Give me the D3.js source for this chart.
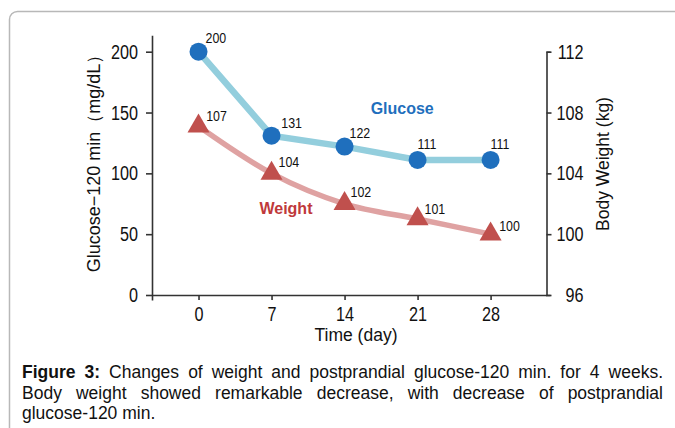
<!DOCTYPE html>
<html>
<head>
<meta charset="utf-8">
<script src="https://cdn.jsdelivr.net/npm/d3@7"></script>
<style>
  html, body { margin: 0; padding: 0; background: #fff; }
  svg { display: block; }
</style>
</head>
<body>
<svg id="chart" width="675" height="428"></svg>
<script>
// ---------- data ----------
const days = [0, 7, 14, 21, 28];
const glucose = [200, 131, 122, 111, 111];
const weight = [107.1, 104.0, 102.0, 101.0, 100.0];
const glucoseLabels = ["200", "131", "122", "111", "111"];
const weightLabels = ["107", "104", "102", "101", "100"];
const xTicks = [0, 7, 14, 21, 28];
const leftTicks = [0, 50, 100, 150, 200];
const rightTicks = [96, 100, 104, 108, 112];
const captionLines = [
  [{t: "Figure 3:", b: true}, {t: "Changes of weight and postprandial glucose-120 min. for 4 weeks.", b: false}],
  [{t: "Body weight showed remarkable decrease, with decrease of postprandial", b: false}],
  [{t: "glucose-120 min.", b: false}]
];

// label offsets (layout, px)
const gLabelOff = [[7, -14.5], [9.7, -13.6], [5, -14.3], [0, -17], [0, -17]];
const wLabelOff = [[7.7, -11], [7, -12], [6, -12], [7, -11], [8.6, -9]];

// ---------- layout ----------
const svg = d3.select("#chart");
const sans = "'Liberation Sans', Arial, sans-serif";
const NARROW = 0.79;   // horizontal squeeze for the condensed numerals

svg.append("rect").attr("width", 675).attr("height", 428).attr("fill", "#fff");
svg.append("rect")
  .attr("x", 9.5).attr("y", 11.5).attr("width", 720).attr("height", 520)
  .attr("rx", 8).attr("fill", "none").attr("stroke", "#b8b8b8").attr("stroke-width", 1.5);

const plotL = 152, plotR = 546.5, plotB = 295, plotT = 51.7;

const x = d3.scaleLinear().domain([-4.46, 33.36]).range([plotL, plotR]);
const yL = d3.scaleLinear().domain([0, 200]).range([plotB, plotT]);
const yR = d3.scaleLinear().domain([96, 112]).range([plotB, plotT]);

const axisColor = "#333";

// left axis (extends a little above 200 and below 0)
const yLaxis = yL.copy().domain([-4.1, 213.5]).range([yL(-4.1), yL(213.5)]);
const gL = svg.append("g").attr("transform", `translate(${plotL},0)`)
  .call(d3.axisLeft(yLaxis).tickValues(leftTicks).tickSize(6).tickSizeOuter(0).tickPadding(8).tickFormat(d3.format("d")));

// right axis
const gR = svg.append("g").attr("transform", `translate(${plotR},0)`)
  .call(d3.axisRight(yR).tickValues(rightTicks).tickSize(5).tickSizeOuter(4).tickPadding(8).tickFormat(d3.format("d")));
gR.selectAll(".tick text").attr("text-anchor", "end").attr("x", 37);

// x axis
const gX = svg.append("g").attr("transform", `translate(0,${plotB})`)
  .call(d3.axisBottom(x).tickValues(xTicks).tickSize(5).tickSizeOuter(0).tickPadding(6).tickFormat(d3.format("d")));

[gL, gR, gX].forEach(g => {
  g.selectAll("path, line").attr("stroke", axisColor).attr("stroke-width", 1.6);
  g.selectAll("text").attr("fill", "#111").style("font-family", sans).style("font-size", "20.5px")
    .each(function() {
      const t = d3.select(this);
      const xv = +(t.attr("x") || 0);
      t.attr("x", xv / NARROW).attr("transform", `scale(${NARROW},1)`);
    });
});

// axis titles
svg.append("text")
  .attr("transform", `translate(100,${159}) rotate(-90)`)
  .attr("text-anchor", "middle")
  .style("font-family", sans).style("font-size", "18px").attr("fill", "#111")
  .text("Glucose\u2212120 min\uFF08mg/dL\uFF09");

svg.append("text")
  .attr("transform", `translate(609,${164}) rotate(-90)`)
  .attr("text-anchor", "middle")
  .style("font-family", sans).style("font-size", "17.5px").attr("fill", "#111")
  .text("Body Weight (kg)");

svg.append("text")
  .attr("x", 356).attr("y", 341)
  .attr("text-anchor", "middle")
  .style("font-family", sans).style("font-size", "17.5px").attr("fill", "#111")
  .text("Time (day)");

// ---------- series ----------
const gPts = days.map((d, i) => ({d, v: glucose[i], lab: glucoseLabels[i], off: gLabelOff[i]}));
const wPts = days.map((d, i) => ({d, v: weight[i], lab: weightLabels[i], off: wLabelOff[i]}));

// weight line (smooth)
svg.append("path")
  .datum(wPts)
  .attr("fill", "none").attr("stroke", "#dfa2a2").attr("stroke-width", 5.5)
  .attr("d", d3.line().x(p => x(p.d)).y(p => yR(p.v)).curve(d3.curveCardinal.tension(0)));

// glucose line
svg.append("path")
  .datum(gPts)
  .attr("fill", "none").attr("stroke", "#93cedd").attr("stroke-width", 6.5)
  .attr("d", d3.line().x(p => x(p.d)).y(p => yL(p.v)));

// weight markers
svg.selectAll(".wm").data(wPts).enter().append("path")
  .attr("transform", p => `translate(${x(p.d)},${yR(p.v)})`)
  .attr("d", d3.symbol().type(d3.symbolTriangle).size(210))
  .attr("fill", "#c0504d");

// glucose markers
svg.selectAll(".gm").data(gPts).enter().append("circle")
  .attr("cx", p => x(p.d)).attr("cy", p => yL(p.v)).attr("r", 9)
  .attr("fill", "#1f6fbd");

// value labels
const LBL = 0.8;
svg.selectAll(".gl").data(gPts).enter().append("text")
  .attr("transform", p => `translate(${x(p.d) + p.off[0]},${yL(p.v) + p.off[1]}) scale(${LBL},1)`)
  .attr("dy", "0.36em")
  .style("font-family", sans).style("font-size", "15.5px").attr("fill", "#111")
  .text(p => p.lab);
svg.selectAll(".wl").data(wPts).enter().append("text")
  .attr("transform", p => `translate(${x(p.d) + p.off[0]},${yR(p.v) + p.off[1]}) scale(${LBL},1)`)
  .attr("dy", "0.36em")
  .style("font-family", sans).style("font-size", "15.5px").attr("fill", "#111")
  .text(p => p.lab);

// series names
svg.append("text")
  .attr("x", x(16.5)).attr("y", yL(153.5)).attr("dy", "0.36em")
  .style("font-family", sans).style("font-size", "16px").style("font-weight", "bold")
  .attr("fill", "#1f6fbd").text("Glucose");
svg.append("text")
  .attr("x", x(5.84)).attr("y", yR(101.68)).attr("dy", "0.36em")
  .style("font-family", sans).style("font-size", "16px").style("font-weight", "bold")
  .attr("fill", "#c0393b").text("Weight");

// ---------- caption (justified) ----------
const capL = 22, capR = 663, capSize = 17.5;
const baselines = [377.5, 398.5, 419];
const measure = svg.append("text").style("font-family", sans).style("font-size", capSize + "px");
function wordWidth(w, b) {
  measure.style("font-weight", b ? "bold" : "normal").text(w);
  return measure.node().getComputedTextLength();
}
const spaceW = (() => { measure.style("font-weight", "normal").text("a a"); const a = measure.node().getComputedTextLength(); measure.text("aa"); return a - measure.node().getComputedTextLength(); })();

captionLines.forEach((segs, li) => {
  const words = [];
  segs.forEach(s => s.t.split(" ").forEach(w => words.push({w, b: s.b})));
  words.forEach(o => o.width = wordWidth(o.w, o.b));
  const total = d3.sum(words, o => o.width);
  const justify = li < captionLines.length - 1;
  const gap = justify ? (capR - capL - total) / (words.length - 1) : spaceW;
  let cx = capL;
  words.forEach(o => {
    svg.append("text").attr("x", cx).attr("y", baselines[li])
      .style("font-family", sans).style("font-size", capSize + "px")
      .style("font-weight", o.b ? "bold" : "normal").attr("fill", "#111")
      .text(o.w);
    cx += o.width + gap;
  });
});
measure.remove();
</script>
</body>
</html>
